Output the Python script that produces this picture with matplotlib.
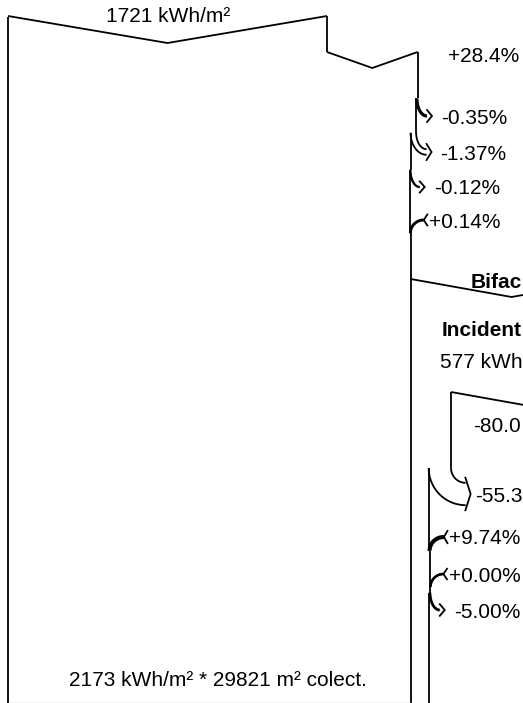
import numpy as np
import matplotlib
matplotlib.use("Agg")
import matplotlib.pyplot as plt

# ---------------- data ----------------
horiz_irr = 1721                                   # kWh/m2 horizontal
front_pct = [28.4, -0.35, -1.37, -0.12, 0.14]      # front-side gains / losses
eff_irr = 2173                                     # kWh/m2 effective
coll_area = 29821                                  # m2 collectors
ground_irr = 577                                   # kWh/m2 incident on ground
rear_pct = [-80.0, -55.3, 9.74, 0.00, -5.00]       # rear-side gains / losses
# texts as visible in the (cropped) reference
bif_title = "Bifac"
inc_title = "Incident"
ground_label = f"{ground_irr} kWh"

# ---------------- layout ----------------
W, H = 523, 703
X0 = 8            # left edge of main flow (px)
TOP = 16          # top of main box
S = 319 / 1721    # px per kWh/m2 (front)
SR = 0.35         # px per kWh/m2 (rear)
front_y = [54, 116, 152, 187, 220]
rear_y = [425, 494, 537, 574, 610]
BIF_Y = 279
REAR_TOP = 392
FONT = "Liberation Sans"
FS = 15.0
LW = 1.3
K = "black"

fig = plt.figure(figsize=(W / 100, H / 100), dpi=100)
ax = fig.add_axes([0, 0, 1, 1])
ax.set_xlim(0, W)
ax.set_ylim(H, 0)
ax.axis("off")


def line(xs, ys, lw=LW, c=K):
    ax.plot(xs, ys, color=c, lw=lw, solid_capstyle="butt",
            solid_joinstyle="miter", clip_on=False)


def quarter(x_edge, y_edge, x_end, y_end, n=40):
    t = np.linspace(0, np.pi / 2, n)
    a = x_end - x_edge
    b = y_end - y_edge
    return x_end - a * np.cos(t), y_edge + b * np.sin(t)


def text(x, yc, s, bold=False, ha="left"):
    ax.text(x, yc + 7.5, s, ha=ha, va="baseline", fontsize=FS,
            family=[FONT, "DejaVu Sans"],
            fontweight="bold" if bold else "normal", color=K)


def vtop(x_left, width, y, depth):
    line([x_left, x_left + width / 2, x_left + width], [y, y + depth, y])


def loss(x_old, x_new, yc, label, lab_dx=14):
    w = x_old - x_new
    ys = yc - 17 - 0.4 * w
    xe = x_old + 9 + 0.25 * w
    line(*quarter(x_old, ys, xe, yc - w / 2))
    line(*quarter(x_new, ys, xe, yc + w / 2))
    line([xe - 0.5, xe + 5, xe - 0.5], [yc - w / 2 - 6, yc, yc + w / 2 + 6])
    text(xe + lab_dx, yc, label)
    return ys


def gain(x_old, x_new, yc, label):
    w = x_new - x_old
    yl = yc + 13 + 0.4 * w
    xe = x_new + 13 + 0.25 * w
    line(*quarter(x_old, yl, xe, yc - w / 2), lw=LW + 0.4)
    line(*quarter(x_new, yl, xe, yc + w / 2), lw=LW + 0.4)
    line([xe + 4, xe, xe + 4], [yc - w / 2 - 6, yc, yc + w / 2 + 6])
    text(xe + 5.5, yc, label)
    return yl


# ---------------- front side ----------------
vals = [horiz_irr]
for p in front_pct:
    vals.append(vals[-1] * (1 + p / 100))
edges = [X0 + v * S for v in vals]

# main box
line([X0, X0], [TOP + 1, H])
vtop(X0, edges[0] - X0, TOP, 27)
text((X0 + edges[0]) / 2 + 1, TOP - 2, f"{horiz_irr} kWh/m²", ha="center")

# +28.4 % gain (transposition), drawn as an incoming V
y_g = 52
line([edges[0], edges[0]], [TOP, y_g])
vtop(edges[0], edges[1] - edges[0], y_g, 16)
text(edges[1] + 30, front_y[0], f"{front_pct[0]:+.1f}%")

# successive losses / gains on the right edge
y_prev = y_g
for i in range(1, len(front_pct)):
    p = front_pct[i]
    lab = f"{p:+.2f}%"
    if p < 0:
        yb = loss(edges[i], edges[i + 1], front_y[i], lab)
    else:
        yb = gain(edges[i], edges[i + 1], front_y[i], lab)
    line([edges[i], edges[i]], [y_prev, yb])
    y_prev = yb
E5 = edges[-1]
line([E5, E5], [y_prev, H])

# bottom label + light base line
text(218, 678, f"{eff_irr} kWh/m² * {coll_area} m² colect.", ha="center")
line([X0, E5], [H - 0.5, H - 0.5], lw=1.0, c="#c4c4c4")

# ---------------- rear side (bifacial) ----------------
WB = ground_irr * SR
vtop(E5, WB, BIF_Y, 18)
text(471, BIF_Y + 1, bif_title, bold=True)
text(442, 328, inc_title, bold=True)
text(440, 360, ground_label)

rvals = [ground_irr]
for p in rear_pct:
    rvals.append(rvals[-1] * (1 + p / 100))
redges = [None] + [E5 + v * SR for v in rvals[1:]]

R1 = redges[1]
vtop(R1, WB, REAR_TOP, 18)
text(473, rear_y[0], f"{rear_pct[0]:+.1f}")

y_prev = REAR_TOP
for i in range(1, len(rear_pct)):
    p = rear_pct[i]
    if abs(p) >= 10:
        yb = loss(redges[i], redges[i + 1], rear_y[i], f"{p:+.1f}", lab_dx=9.5)
    elif p < 0:
        yb = loss(redges[i], redges[i + 1], rear_y[i], f"{p:+.2f}%")
    else:
        yb = gain(redges[i], redges[i + 1], rear_y[i], f"{p:+.2f}%")
    line([redges[i], redges[i]], [y_prev, yb])
    y_prev = yb
line([redges[-1], redges[-1]], [y_prev, H])

fig.savefig("out.png", dpi=100)
